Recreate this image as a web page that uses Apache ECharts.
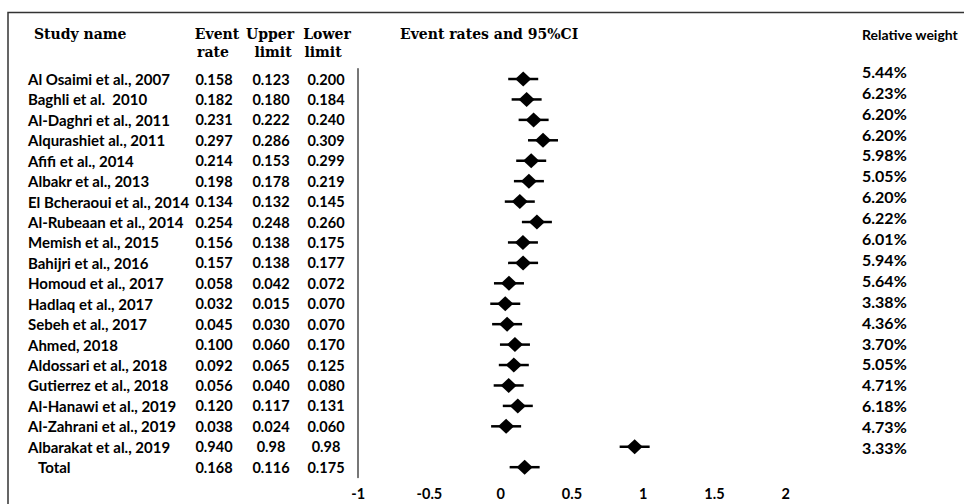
<!DOCTYPE html>
<html><head><meta charset="utf-8">
<script src="https://cdn.jsdelivr.net/npm/echarts@6.0.0/dist/echarts.min.js"></script>
<style>html,body{margin:0;padding:0;background:#fff}#c{width:964px;height:504px}</style>
</head><body><div id="c"></div>
<script>
const studies = ["Al Osaimi et al., 2007","Baghli et al.  2010","Al-Daghri et al., 2011","Alqurashiet al., 2011","Afifi et al., 2014","Albakr et al., 2013","El Bcheraoui et al., 2014","Al-Rubeaan et al., 2014","Memish et al., 2015","Bahijri et al., 2016","Homoud et al., 2017","Hadlaq et al., 2017","Sebeh et al., 2017","Ahmed, 2018","Aldossari et al., 2018","Gutierrez et al., 2018","Al-Hanawi et al., 2019","Al-Zahrani et al., 2019","Albarakat et al., 2019","Total"];
const eventRate = [0.158,0.182,0.231,0.297,0.214,0.198,0.134,0.254,0.156,0.157,0.058,0.032,0.045,0.100,0.092,0.056,0.120,0.038,0.940,0.168];
const upperLimit = ["0.123","0.180","0.222","0.286","0.153","0.178","0.132","0.248","0.138","0.138","0.042","0.015","0.030","0.060","0.065","0.040","0.117","0.024","0.98","0.116"];
const lowerLimit = ["0.200","0.184","0.240","0.309","0.299","0.219","0.145","0.260","0.175","0.177","0.072","0.070","0.070","0.170","0.125","0.080","0.131","0.060","0.98","0.175"];
const weights = ["5.44%","6.23%","6.20%","6.20%","5.98%","5.05%","6.20%","6.22%","6.01%","5.94%","5.64%","3.38%","4.36%","3.70%","5.05%","4.71%","6.18%","4.73%","3.33%"];
const xMin = -1, xMax = 2, xStep = 0.5;

const chart = echarts.init(document.getElementById('c'), null, {renderer: 'svg'});
const SANS = 'Lato';
const SERIF = '"DejaVu Serif"';
const GL = 358.2;
const INK = '#000';
const hideAxis = {axisLine:{show:false}, axisTick:{show:false}, splitLine:{show:false}};
function colAxis(values, align, margin) {
  return Object.assign({
    type:'category', gridIndex:0, inverse:true, data: studies, position:'left',
    axisLabel:{interval:0, align: align, margin: margin, fontFamily:SANS, fontWeight:'bold', fontSize:14.5, color:INK,
      formatter:(v, i) => values[i]}
  }, hideAxis);
}
const headFont = 'bold 14px ' + SERIF;
function htext(t, x, y, align, font) {
  return {type:'text', x:x, y:y, style:{text:t, font:font || headFont, fill:INK, align:align || 'left', verticalAlign:'middle'}};
}
chart.setOption({
  animation:false,
  backgroundColor:'#fff',
  grid:[
    {left:GL, width:427.5, top:68.8, height:408.6, outerBoundsMode:'none'},
    {left:862, width:60, top:60.9, height:397.1, outerBoundsMode:'none'}
  ],
  xAxis:[
    Object.assign({type:'value', gridIndex:0, min:xMin, max:xMax, interval:xStep,
      axisLabel:{margin:9, fontFamily:SANS, fontWeight:'bold', fontSize:14.5, color:INK}}, hideAxis),
    Object.assign({type:'value', gridIndex:1, show:false}, hideAxis)
  ],
  yAxis:[
    {type:'category', gridIndex:0, inverse:true, data:studies, position:'left',
      axisLine:{show:true, onZero:false, lineStyle:{color:'#555', width:1.6}}, axisTick:{show:false}, axisLabel:{show:false}, splitLine:{show:false}},
    {type:'category', gridIndex:0, inverse:true, data:studies, position:'left',
      axisLine:{show:false}, axisTick:{show:false}, splitLine:{show:false},
      axisLabel:{interval:0, align:'left', margin:GL - 28, fontFamily:SANS, fontWeight:'bold', fontSize:15, color:INK,
        formatter:(v) => v === 'Total' ? '{t|' + v + '}' : v,
        rich:{t:{padding:[0,0,0,10], fontFamily:SANS, fontWeight:'bold', fontSize:15, color:INK}}}},
    colAxis(eventRate.map(v => v.toFixed(3)), 'center', GL - 214),
    colAxis(upperLimit, 'center', GL - 271),
    colAxis(lowerLimit, 'center', GL - 326),
    Object.assign({type:'category', gridIndex:1, inverse:true, data:weights, position:'left',
      axisLabel:{interval:0, align:'left', margin:0, fontFamily:SANS, fontWeight:'bold', fontSize:16, color:INK}}, hideAxis)
  ],
  graphic:[
    {type:'rect', shape:{x:8, y:12.5, width:1000, height:600}, style:{fill:'none', stroke:'#333', lineWidth:1.5}, silent:true},
    htext('Study name', 34, 34),
    htext('Event', 217, 34, 'center'), htext('rate', 213, 51.5, 'center'),
    htext('Upper', 270, 34, 'center'), htext('limit', 273, 51.5, 'center'),
    htext('Lower', 327, 34, 'center'), htext('limit', 323, 51.5, 'center'),
    htext('Event rates and 95%CI', 400, 34),
    htext('Relative weight', 862, 34, 'left', 'bold 14px ' + SANS)
  ],
  series:[
    {type:'custom', xAxisIndex:0, yAxisIndex:0, data: eventRate.map((v, i) => [v, i]),
      encode:{x:0, y:1},
      renderItem(params, api) {
        const p = api.coord([api.value(0), api.value(1)]);
        const cx = p[0], cy = p[1];
        return {type:'group', children:[
          {type:'line', shape:{x1:cx - 15, y1:cy, x2:cx + 15, y2:cy}, style:{stroke:'#000', lineWidth:2.5}},
          {type:'polygon', shape:{points:[[cx, cy - 7.5], [cx + 8, cy], [cx, cy + 7.5], [cx - 8, cy]]}, style:{fill:'#000'}}
        ]};
      }},
    {type:'scatter', xAxisIndex:1, yAxisIndex:5, data:[], silent:true}
  ]
});
</script></body></html>
